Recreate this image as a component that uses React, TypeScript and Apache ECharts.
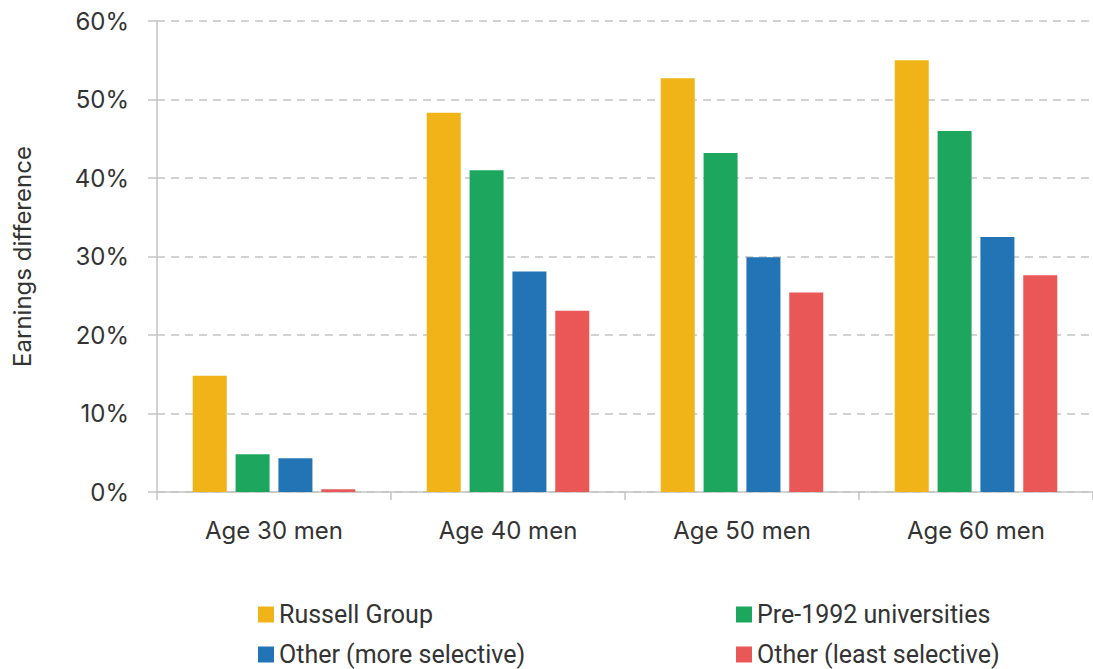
import React, { useEffect, useRef } from "react";
import * as echarts from "echarts";

const categories = ["Age 30 men", "Age 40 men", "Age 50 men", "Age 60 men"];
const russellGroup = [14.8, 48.3, 52.7, 55.0];
const pre1992 = [4.8, 41.0, 43.2, 46.0];
const otherMore = [4.3, 28.1, 29.9, 32.5];
const otherLeast = [0.35, 23.1, 25.4, 27.6];
const seriesNames = ["Russell Group", "Pre-1992 universities", "Other (more selective)", "Other (least selective)"];
const colors = ["#F0B419", "#1DA75E", "#2374B5", "#E95757"];
const AXIS_FONT = "Inter";
const LEGEND_FONT = "Roboto";

export default function App() {
  const ref = useRef<HTMLDivElement>(null);
  useEffect(() => {
    if (!ref.current) return;
    const chart = echarts.init(ref.current, undefined, { renderer: "svg" });
    const values = [russellGroup, pre1992, otherMore, otherLeast];
    const legendPos = [
      { left: 258, top: 602 },
      { left: 736, top: 602 },
      { left: 258, top: 642 },
      { left: 736, top: 642 },
    ];
    chart.setOption({
      animation: false,
      backgroundColor: "#ffffff",
      textStyle: { fontFamily: AXIS_FONT },
      grid: { left: 157, top: 21, width: 944, height: 471, containLabel: false },
      legend: seriesNames.map((n, i) => ({
        data: [n],
        left: legendPos[i].left,
        top: legendPos[i].top,
        padding: 0,
        itemWidth: 16,
        itemHeight: 16,
        itemGap: 8,
        icon: "rect",
        textStyle: { fontSize: 25, lineHeight: 22, color: "#333333", fontFamily: LEGEND_FONT },
      })),
      xAxis: {
        type: "category",
        data: categories,
        axisLine: { lineStyle: { color: "#c4c4c4", width: 1.5 } },
        axisTick: { show: true, length: 8, lineStyle: { color: "#c4c4c4", width: 1.5 } },
        axisLabel: { fontSize: 24, color: "#333333", margin: 26, fontFamily: AXIS_FONT },
      },
      yAxis: {
        type: "value",
        min: 0,
        max: 60,
        interval: 10,
        name: "Earnings difference",
        nameLocation: "middle",
        nameGap: 123,
        nameTextStyle: { fontSize: 24, color: "#333333", fontFamily: AXIS_FONT },
        axisLine: { show: true, lineStyle: { color: "#c4c4c4", width: 1.5 } },
        axisTick: { show: true, length: 9, lineStyle: { color: "#c4c4c4", width: 1.5 } },
        axisLabel: { formatter: "{value}%", fontSize: 24, color: "#333333", margin: 28, fontFamily: AXIS_FONT },
        splitLine: { show: true, lineStyle: { color: "#c4c4c4", width: 1.5, type: [8, 6] } },
      },
      series: seriesNames.map((n, i) => ({
        name: n,
        type: "bar",
        data: values[i],
        barWidth: 34,
        barGap: "26%",
        itemStyle: { color: colors[i] },
      })),
    });
    return () => chart.dispose();
  }, []);
  return (
    <div
      ref={ref}
      style={{ position: "fixed", left: 0, top: 0, width: 1093, height: 669, overflow: "hidden" }}
    />
  );
}
